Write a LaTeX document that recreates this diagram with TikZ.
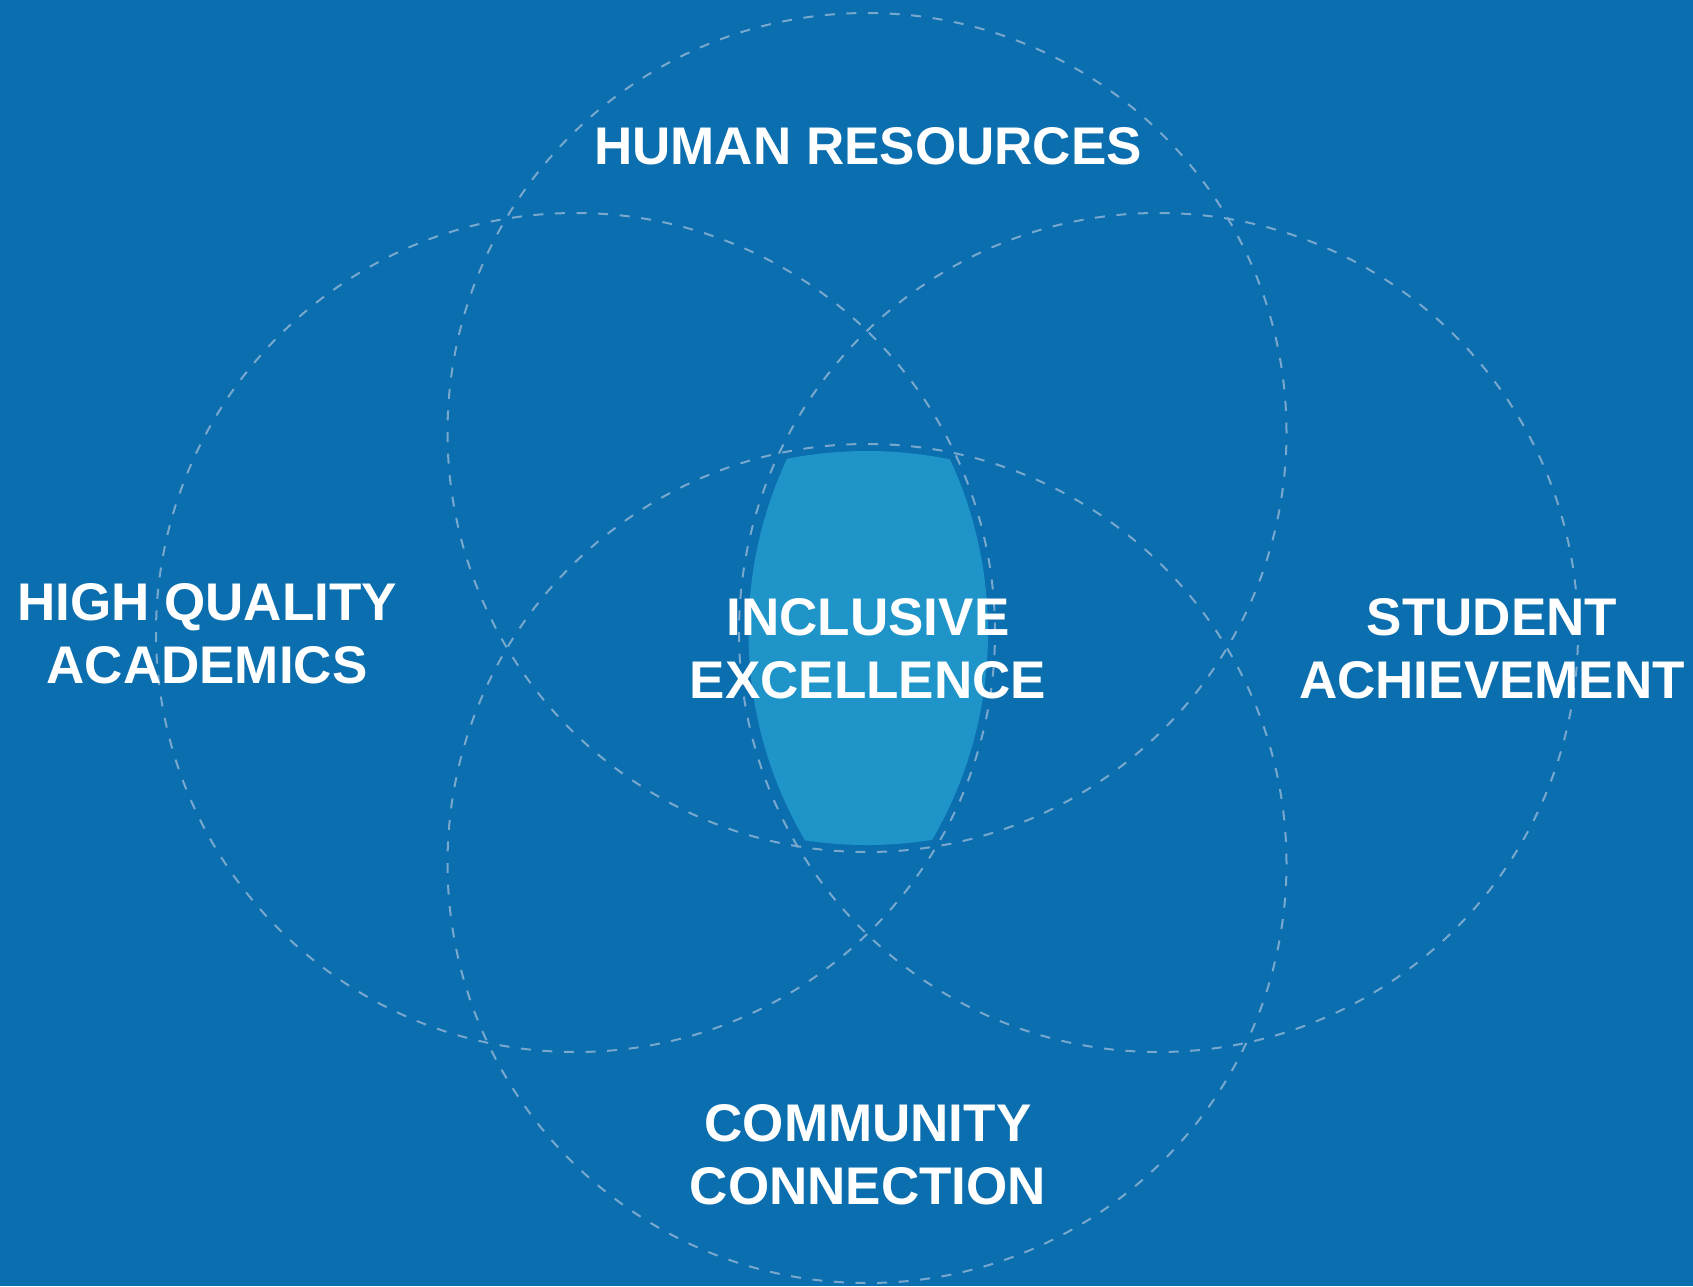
\documentclass[tikz,border=0pt]{standalone}
\usepackage{fontspec}
\setmainfont{Liberation Sans}
\definecolor{bgblue}{RGB}{11,110,174}
\definecolor{hiblue}{RGB}{30,148,200}
\definecolor{dashcol}{RGB}{120,168,206}
\tikzset{
  ring/.style={draw=dashcol, line width=1pt, dash pattern=on 5pt off 5.8pt},
  lbl/.style={text=white, align=center, inner sep=0pt, font=\bfseries\fontsize{26.5}{31.3}\selectfont}
}
\begin{document}
\begin{tikzpicture}[x=0.5pt,y=-0.5pt]
\fill[bgblue] (0,0) rectangle (1693,1286);
\useasboundingbox (0,0) rectangle (1693,1286);
\coordinate (ctop) at (867,432.5);
\coordinate (cbot) at (867,863.5);
\coordinate (cleft) at (575.5,632.5);
\coordinate (cright) at (1158.5,632.5);
% central highlight: intersection of the four circles, slightly inset
\begin{scope}
\clip (ctop) circle[radius=206.25pt];
\clip (cbot) circle[radius=206.25pt];
\clip (cleft) circle[radius=206.25pt];
\clip (cright) circle[radius=205pt];
\fill[hiblue] (0,0) rectangle (1693,1286);
\end{scope}
\draw[ring] (ctop) circle[radius=209.75pt];
\draw[ring] (cbot) circle[radius=209.75pt];
\draw[ring] (cleft) circle[radius=209.75pt];
\draw[ring] (cright) circle[radius=209.75pt];
\node[lbl] (hr) at (868,146) {HUMAN RESOURCES};
\node[lbl] (ie) at (868,649) {INCLUSIVE\\EXCELLENCE};
\node[lbl] (hq) at (207,634) {HIGH QUALITY\\ACADEMICS};
\node[lbl] (sa) at (1492,649) {STUDENT\\ACHIEVEMENT};
\node[lbl] (cc) at (868,1155) {COMMUNITY\\CONNECTION};
\end{tikzpicture}
\end{document}
